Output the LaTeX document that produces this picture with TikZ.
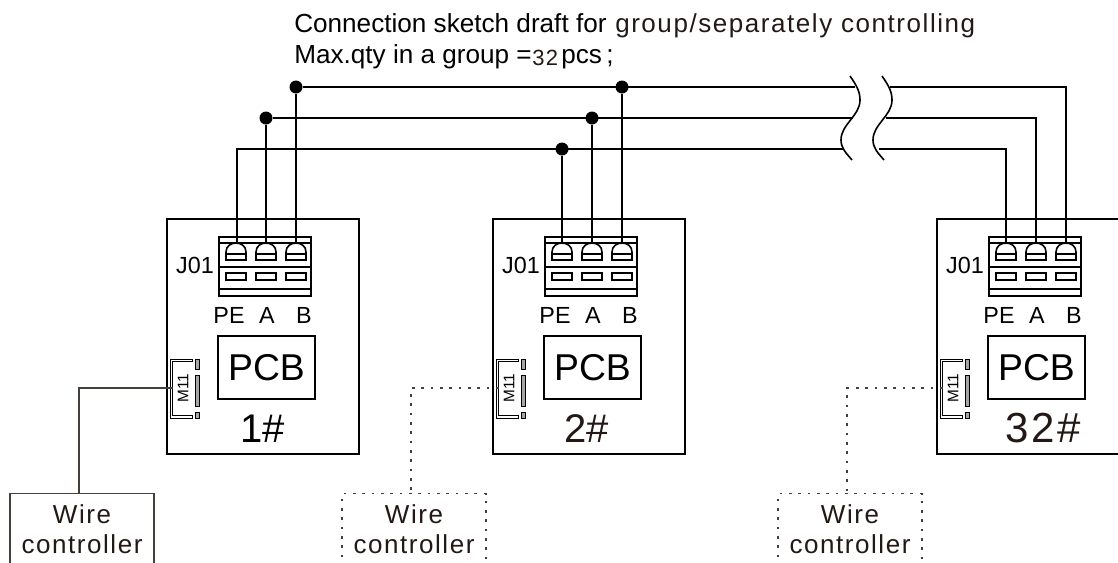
\documentclass[tikz,border=0pt]{standalone}
\usepackage{fontspec}
\setmainfont{Liberation Sans}
\newfontfamily\widefont[LetterSpace=6]{Liberation Sans}
\definecolor{inkbrown}{HTML}{231815}
\definecolor{wiregray}{HTML}{453F3C}
\tikzset{
  board/.style={draw, line width=1.2pt, anchor=north west, minimum height=176.25pt, inner sep=0pt},
  pcbbox/.style={draw, line width=1.2pt, minimum width=72.75pt, minimum height=47.25pt, inner sep=0pt, font=\fontsize{28}{28}\selectfont},
  pin/.style={inner sep=0pt, anchor=base, font=\fontsize{17.5}{17.5}\selectfont},
  number/.style={inner sep=0pt, anchor=base, font=\fontsize{30}{30}\selectfont},
  title/.style={inner sep=0pt, anchor=base west, font=\fontsize{19.6}{19.6}\selectfont},
  bus/.style={line width=1.2pt},
  joint/.style={circle, fill=black, inner sep=0pt, minimum size=9.75pt},
  ctrl/.style={draw=wiregray, text=inkbrown, line width=1pt, anchor=north, minimum width=108pt, inner xsep=0pt, inner ysep=8.5pt, align=center, font=\widefont\fontsize{19.5}{22}\selectfont},
  ctrlwire/.style={draw=wiregray, line width=1pt},
  dots/.style={dash pattern=on 2pt off 5pt}
}
\begin{document}
\begin{tikzpicture}[x=0.75pt, y=-0.75pt]
  \clip (0,0) rectangle (1118,562);

  % heading
  \node[title] (head) at (294,32) {Connection sketch draft for};
  \node[title, text=inkbrown, font=\widefont\fontsize{19.5}{19.5}\selectfont] (headb) at (615,32) {group/separately controlling};
  \node[title] (qty) at (294,63) {Max.qty in a group =};
  \node[title, text=inkbrown, font=\widefont\fontsize{16.5}{16.5}\selectfont] (qtyn) at (532,65) {32};
  \node[title] (qtyp) at (561,63) {pcs};
  \node[title] (qtys) at (606,63) {;};

  % boards
  \foreach \bx/\bn/\bw in {0/1/192, 326/2/192, 770/3/200} {
    \node[board, minimum width={\bw*0.75pt}] (board\bn) at ({166+\bx},218) {};
    \node[pcbbox] (pcb\bn) at ({266.5+\bx},367.5) {PCB};

    % J01 block
    \draw[line width=1.2pt] ({219+\bx},237) rectangle ({311+\bx},296);
    \draw[line width=0.8pt] ({219+\bx},243) -- ({311+\bx},243);
    \draw[line width=1.2pt] ({219+\bx},267) -- ({311+\bx},267);
    \draw[line width=1.2pt] ({219+\bx},289) -- ({311+\bx},289);
    \foreach \tn/\tx in {pe/236, a/266, b/296} {
      \coordinate (\tn\bn) at ({\tx+\bx},243);
      \begin{scope}[shift={({\tx+\bx},0)}, line width=1.2pt]
        \draw (-10,260) -- (-10,252) .. controls (-10,246) and (-5,243) .. (0,243)
          .. controls (5,243) and (10,246) .. (10,252) -- (10,260) -- cycle;
        \draw (-10,254) -- (10,254);
        \draw (-10,273) rectangle (10,280);
      \end{scope}
    }
    \node[pin] (j\bn) at ({195+\bx},273) {J01};
    \node[pin] (lpe\bn) at ({229+\bx},323) {PE};
    \node[pin] (la\bn) at ({267+\bx},323) {A};
    \node[pin] (lb\bn) at ({304+\bx},323) {B};

    % M11 socket
    \draw[line width=0.7pt] ({192+\bx},359) -- ({170+\bx},359) -- ({170+\bx},418) -- ({192+\bx},418)
      -- ({192+\bx},415.5) -- ({172.5+\bx},415.5) -- ({172.5+\bx},361.5) -- ({192+\bx},361.5) -- cycle;
    \draw[fill=gray!70, line width=0.6pt] ({195.5+\bx},359) rectangle ({199+\bx},369);
    \draw[fill=gray!70, line width=0.6pt] ({195.5+\bx},375) rectangle ({199+\bx},406);
    \draw[fill=gray!70, line width=0.6pt] ({195.5+\bx},412) rectangle ({199+\bx},418);
    \node[rotate=90, inner sep=0pt, font=\fontsize{11.5}{11.5}\selectfont] (m\bn) at ({183+\bx},388) {M11};
    \coordinate (sock\bn) at ({172.5+\bx},388);
  }

  \node[number] (no1) at (262.5,442) {1\#};
  \node[number, text=inkbrown] (no2) at (587,442) {2\#};
  \node[number, text=inkbrown, font=\widefont\fontsize{31.5}{31.5}\selectfont] (no3) at (1043,442) {32\#};

  % bus
  \node[joint] (jb1) at (296,87) {};
  \node[joint] (ja1) at (266,118) {};
  \node[joint] (jb2) at (622,87) {};
  \node[joint] (ja2) at (592,118) {};
  \node[joint] (jpe2) at (562,149) {};
  \coordinate (bl) at (855,87);
  \coordinate (al) at (853,118);
  \coordinate (pl) at (843,149);
  \coordinate (br) at (890,87);
  \coordinate (ar) at (886,118);
  \coordinate (pr) at (879,149);

  \draw[bus] (jb1) -- (bl);
  \draw[bus] (ja1) -- (al);
  \draw[bus, line width=1.6pt] ([xshift=1pt]pe1) |- (pl);
  \draw[bus] (jb1) -- (b1);
  \draw[bus] (ja1) -- (a1);
  \draw[bus] (jb2) -- (b2);
  \draw[bus] (ja2) -- (a2);
  \draw[bus] (jpe2) -- (pe2);
  \draw[bus] (br) -| (b3);
  \draw[bus] (ar) -| (a3);
  \draw[bus] (pr) -| (pe3);

  % break marks
  \foreach \sx in {0,32} {
    \draw[line width=1.2pt, shift={(\sx,0)}] (850,76) .. controls (857,86) and (860,92) .. (860,100)
      .. controls (860,116) and (841,124) .. (841,140) .. controls (841,148) and (846,153) .. (852,160);
  }

  % wire controllers
  \node[ctrl] (wc1) at (82,493) {Wire\\controller};
  \node[ctrl, dots] (wc2) at (414,493) {Wire\\controller};
  \node[ctrl, dots] (wc3) at (850,493) {Wire\\controller};
  \coordinate (wt1) at (79,493);
  \coordinate (wt2) at (411,493);
  \coordinate (wt3) at (847,493);

  \draw[ctrlwire] (sock1) -| (wt1);
  \draw[ctrlwire, dots] (sock2) -| (wt2);
  \draw[ctrlwire, dots] (sock3) -| (wt3);
\end{tikzpicture}
\end{document}
